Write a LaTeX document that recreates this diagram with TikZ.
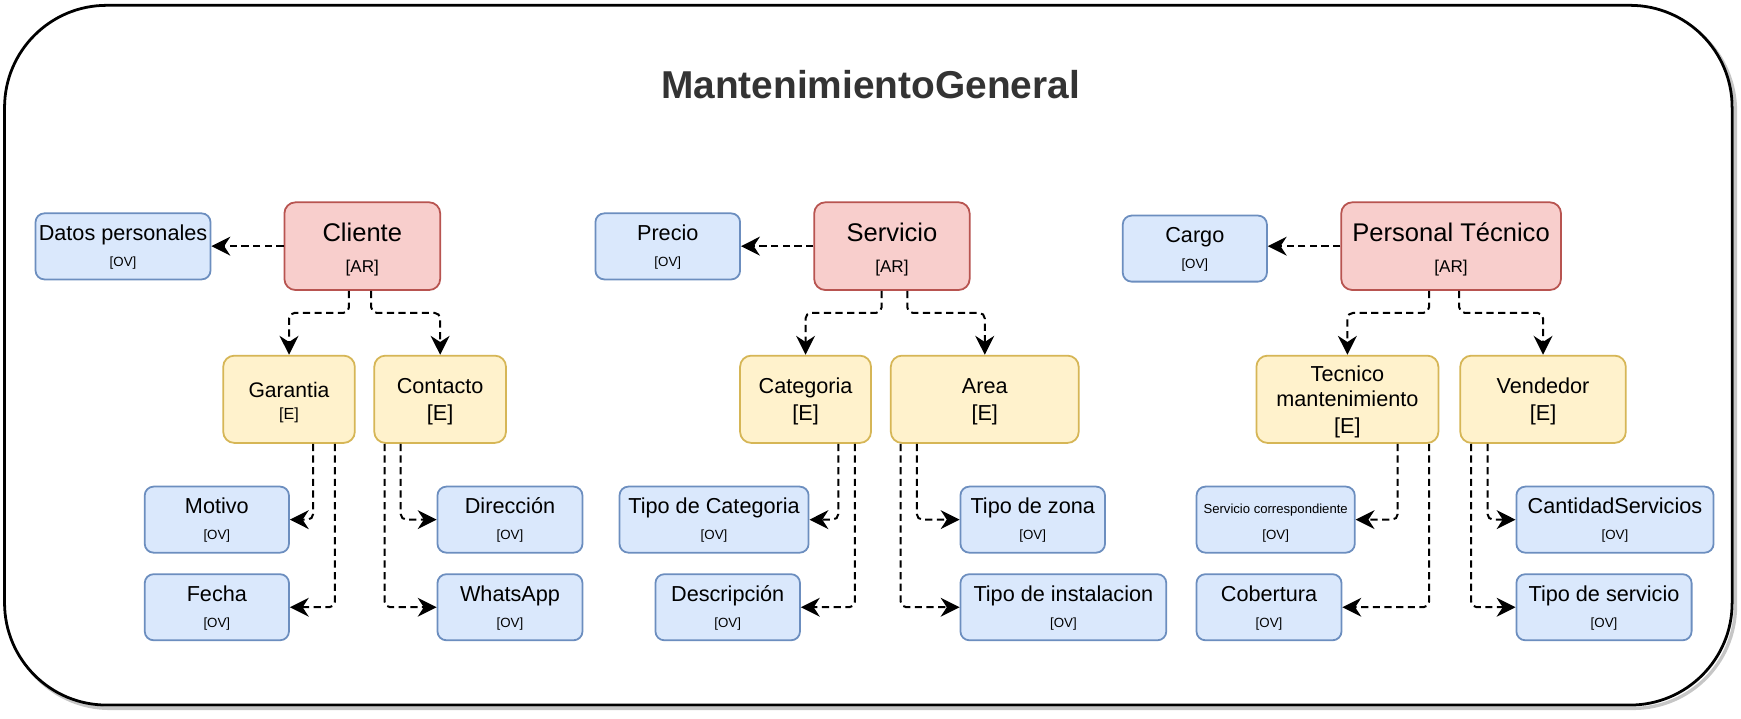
\documentclass[tikz,border=0pt]{standalone}
\usepackage{fontspec}
\setmainfont{Liberation Sans}
\usetikzlibrary{arrows.meta,calc}
\definecolor{bfill}{HTML}{DAE8FC}
\definecolor{bdraw}{HTML}{6C8EBF}
\definecolor{rfill}{HTML}{F8CECC}
\definecolor{rdraw}{HTML}{B85450}
\definecolor{yfill}{HTML}{FFF2CC}
\definecolor{ydraw}{HTML}{D6B656}
\definecolor{titlec}{HTML}{333333}
% one text line, centred on the node centre, raised by #2 (pt)
\newcommand\oneln[3]{\makebox[0pt]{\raisebox{#2pt}[0pt][0pt]{\fontsize{#1}{#1}\selectfont #3}}}
\newcommand\twoln[6]{\oneln{#1}{#2}{#3}\oneln{#4}{#5}{#6}}
\newcommand\ovtxt[1]{\twoln{19.5}{5.4}{#1}{12}{-18.3}{[OV]}}
\newcommand\artxt[1]{\twoln{23}{4.6}{#1}{15.4}{-23.8}{[AR]}}
\newcommand\etxt[1]{\twoln{19.5}{5.4}{#1}{19.5}{-18.8}{[E]}}
\begin{document}
\begin{tikzpicture}[x=1pt,y=-1pt,
  box/.style={draw, line width=1.6pt, inner sep=0pt},
  bluebox/.style={box, fill=bfill, draw=bdraw, rounded corners=8pt, minimum height=59.5pt},
  redbox/.style={box, fill=rfill, draw=rdraw, rounded corners=10pt, minimum height=79pt},
  yellowbox/.style={box, fill=yfill, draw=ydraw, rounded corners=10pt, minimum height=78.6pt},
  conn/.style={line width=1.8pt, dash pattern=on 6.5pt off 4pt, rounded corners=5pt,
    -{Stealth[length=17pt,width=17pt,inset=5.5pt]}}]
\useasboundingbox (0,0) rectangle (1568,647);
% frame with shadow
\draw[gray!45, line width=3pt, rounded corners=92pt] (7,8) rectangle (1563,638);
\draw[fill=white, line width=2.5pt, rounded corners=92pt] (4.1,4.8) rectangle (1560,635);
\node[font=\fontsize{35}{35}\selectfont\bfseries, text=titlec] (title) at (784,76) {MantenimientoGeneral};

% aggregate roots
\node[redbox, minimum width=140.3pt] (cliente) at (326.3,221.7) {\artxt{Cliente}};
\node[redbox, minimum width=140pt] (servicio) at (803.3,221.7) {\artxt{Servicio}};
\node[redbox, minimum width=197.9pt] (personal) at (1306.9,221.7) {\artxt{Personal Técnico}};

% value objects, first row
\node[bluebox, minimum width=157.6pt] (datos) at (110.8,221.9) {\ovtxt{Datos personales}};
\node[bluebox, minimum width=130.3pt] (precio) at (601.4,221.9) {\ovtxt{Precio}};
\node[bluebox, minimum width=129.8pt] (cargo) at (1076.1,223.9) {\ovtxt{Cargo}};

% entities
\node[yellowbox, minimum width=118.5pt] (garantia) at (260.3,359.6) {\twoln{19}{1.8}{Garantia}{14.5}{-17.9}{[E]}};
\node[yellowbox, minimum width=118.6pt] (contacto) at (396.4,359.6) {\etxt{Contacto}};
\node[yellowbox, minimum width=117.9pt] (categoria) at (725.5,359.6) {\etxt{Categoria}};
\node[yellowbox, minimum width=169.2pt] (area) at (886.9,359.6) {\etxt{Area}};
\node[yellowbox, minimum width=163.9pt] (tecnico) at (1213.5,359.6)
  {\oneln{19.5}{16.2}{Tecnico}\oneln{19.5}{-6.9}{mantenimiento}\oneln{19.5}{-30.5}{[E]}};
\node[yellowbox, minimum width=149.1pt] (vendedor) at (1389.7,359.6) {\etxt{Vendedor}};

% value objects, lower rows
\node[bluebox, minimum width=129.9pt] (motivo) at (195.3,468) {\ovtxt{Motivo}};
\node[bluebox, minimum width=129.9pt] (fecha) at (195.3,546.9) {\ovtxt{Fecha}};
\node[bluebox, minimum width=130.6pt] (direccion) at (459.3,468) {\ovtxt{Dirección}};
\node[bluebox, minimum width=130.6pt] (whatsapp) at (459.3,546.9) {\ovtxt{WhatsApp}};
\node[bluebox, minimum width=170.3pt] (tipocat) at (643.1,468) {\ovtxt{Tipo de Categoria}};
\node[bluebox, minimum width=130.2pt] (descripcion) at (655.4,546.9) {\ovtxt{Descripción}};
\node[bluebox, minimum width=130.2pt] (tipozona) at (930.1,468) {\ovtxt{Tipo de zona}};
\node[bluebox, minimum width=185.4pt] (tipoinst) at (957.7,546.9) {\ovtxt{Tipo de instalacion}};
\node[bluebox, minimum width=142.5pt] (servcorr) at (1148.9,468) {\twoln{11.8}{5.3}{Servicio correspondiente}{12}{-18.3}{[OV]}};
\node[bluebox, minimum width=130.6pt] (cobertura) at (1142.9,546.9) {\ovtxt{Cobertura}};
\node[bluebox, minimum width=177.6pt] (cantidad) at (1454.5,468) {\ovtxt{CantidadServicios}};
\node[bluebox, minimum width=157.8pt] (tiposerv) at (1444.6,546.9) {\ovtxt{Tipo de servicio}};

% root -> value object
\draw[conn] (cliente.west) -- (datos.east |- cliente.west);
\draw[conn] (servicio.west) -- (precio.east |- servicio.west);
\draw[conn] (personal.west) -- (cargo.east |- personal.west);

% root -> entities
\draw[conn] ([xshift=-12pt]cliente.south) -- ++(0,19.8) -| (garantia.north);
\draw[conn] ([xshift=8pt]cliente.south) -- ++(0,19.8) -| (contacto.north);
\draw[conn] ([xshift=-9.3pt]servicio.south) -- ++(0,19.8) -| (categoria.north);
\draw[conn] ([xshift=13.8pt]servicio.south) -- ++(0,19.8) -| (area.north);
\draw[conn] ([xshift=-19.9pt]personal.south) -- ++(0,19.8) -| (tecnico.north);
\draw[conn] ([xshift=7.3pt]personal.south) -- ++(0,19.8) -| (vendedor.north);

% entities -> value objects
\draw[conn] ([xshift=21.7pt]garantia.south) |- (motivo.east);
\draw[conn] ([xshift=41.3pt]garantia.south) |- (fecha.east);
\draw[conn] ([xshift=-35.5pt]contacto.south) |- (direccion.west);
\draw[conn] ([xshift=-50pt]contacto.south) |- (whatsapp.west);
\draw[conn] ([xshift=29.5pt]categoria.south) |- (tipocat.east);
\draw[conn] ([xshift=44.4pt]categoria.south) |- (descripcion.east);
\draw[conn] ([xshift=-61.2pt]area.south) |- (tipozona.west);
\draw[conn] ([xshift=-75.7pt]area.south) |- (tipoinst.west);
\draw[conn] ([xshift=45.3pt]tecnico.south) |- (servcorr.east);
\draw[conn] ([xshift=73.5pt]tecnico.south) |- (cobertura.east);
\draw[conn] ([xshift=-50pt]vendedor.south) |- (cantidad.west);
\draw[conn] ([xshift=-64.7pt]vendedor.south) |- (tiposerv.west);
\end{tikzpicture}
\end{document}
